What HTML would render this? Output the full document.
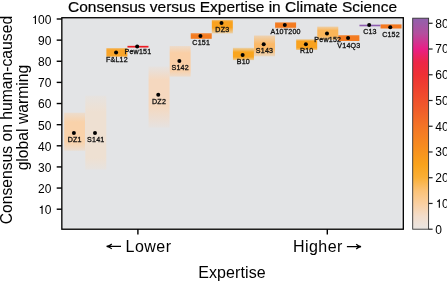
<!DOCTYPE html>
<html><head><meta charset="utf-8"><style>
html,body{margin:0;padding:0;background:#fff;width:447px;height:281px;overflow:hidden}
svg{display:block;will-change:transform}
text{font-family:"Liberation Sans",sans-serif;fill:#000}
.ttl{font-size:15.5px;stroke:#000;stroke-width:0.2px}
.yl{font-size:15.7px}
.xl{font-size:16px}
.tk{font-size:12px}
.lbl{font-size:7.1px;letter-spacing:0.2px;text-anchor:middle;fill:#111;stroke:#111;stroke-width:0.3px}
</style></head><body>
<svg width="447" height="281" viewBox="0 0 447 281">
<defs><linearGradient id="g0" x1="0" y1="0" x2="0" y2="1"><stop offset="0.0000" stop-color="#F9D2AA" stop-opacity="0.4"/><stop offset="0.2447" stop-color="#F9D2AA" stop-opacity="1"/><stop offset="0.7711" stop-color="#F9D2AA" stop-opacity="1"/><stop offset="1.0000" stop-color="#F9D2AA" stop-opacity="0.35"/></linearGradient><linearGradient id="g1" x1="0" y1="0" x2="0" y2="1"><stop offset="0.0000" stop-color="#EEE0D2" stop-opacity="0.3"/><stop offset="0.2219" stop-color="#EEE0D2" stop-opacity="1"/><stop offset="0.8444" stop-color="#EEE0D2" stop-opacity="1"/><stop offset="1.0000" stop-color="#EEE0D2" stop-opacity="0.35"/></linearGradient><linearGradient id="g2" x1="0" y1="0" x2="0" y2="1"><stop offset="0.0000" stop-color="#F9A52A" stop-opacity="0.5"/><stop offset="0.2093" stop-color="#F9A52A" stop-opacity="1"/><stop offset="0.9884" stop-color="#F9A52A" stop-opacity="1"/><stop offset="1.0000" stop-color="#F9A52A" stop-opacity="1"/></linearGradient><linearGradient id="g4" x1="0" y1="0" x2="0" y2="1"><stop offset="0.0000" stop-color="#F5D8BF" stop-opacity="0.15"/><stop offset="0.2219" stop-color="#F5D8BF" stop-opacity="1"/><stop offset="0.6460" stop-color="#F5D8BF" stop-opacity="1"/><stop offset="1.0000" stop-color="#F5D8BF" stop-opacity="0.15"/></linearGradient><linearGradient id="g5" x1="0" y1="0" x2="0" y2="1"><stop offset="0.0000" stop-color="#FACFA6" stop-opacity="0.4"/><stop offset="0.2288" stop-color="#FACFA6" stop-opacity="1"/><stop offset="0.7843" stop-color="#FACFA6" stop-opacity="1"/><stop offset="1.0000" stop-color="#FACFA6" stop-opacity="0.4"/></linearGradient><linearGradient id="g6" x1="0" y1="0" x2="0" y2="1"><stop offset="0.0000" stop-color="#F47B20" stop-opacity="0.55"/><stop offset="0.3103" stop-color="#F47B20" stop-opacity="1"/><stop offset="1.0000" stop-color="#F47B20" stop-opacity="1"/><stop offset="1.0000" stop-color="#F47B20" stop-opacity="1"/></linearGradient><linearGradient id="g7" x1="0" y1="0" x2="0" y2="1"><stop offset="0.0000" stop-color="#F9A21E" stop-opacity="0.5"/><stop offset="0.1407" stop-color="#F9A21E" stop-opacity="1"/><stop offset="0.5630" stop-color="#F9A21E" stop-opacity="1"/><stop offset="1.0000" stop-color="#F9A21E" stop-opacity="0.3"/></linearGradient><linearGradient id="g8" x1="0" y1="0" x2="0" y2="1"><stop offset="0.0000" stop-color="#F9A51E" stop-opacity="0.3"/><stop offset="0.3577" stop-color="#F9A51E" stop-opacity="1"/><stop offset="0.7398" stop-color="#F9A51E" stop-opacity="1"/><stop offset="1.0000" stop-color="#F9A51E" stop-opacity="0.4"/></linearGradient><linearGradient id="g9" x1="0" y1="0" x2="0" y2="1"><stop offset="0.0000" stop-color="#FBB968" stop-opacity="0.4"/><stop offset="0.4087" stop-color="#FBB968" stop-opacity="1"/><stop offset="0.6490" stop-color="#FBB968" stop-opacity="1"/><stop offset="1.0000" stop-color="#FBB968" stop-opacity="0.3"/></linearGradient><linearGradient id="g10" x1="0" y1="0" x2="0" y2="1"><stop offset="0.0000" stop-color="#F47B20" stop-opacity="0.6"/><stop offset="0.2295" stop-color="#F47B20" stop-opacity="1"/><stop offset="0.7541" stop-color="#F47B20" stop-opacity="1"/><stop offset="1.0000" stop-color="#F47B20" stop-opacity="0.6"/></linearGradient><linearGradient id="g11" x1="0" y1="0" x2="0" y2="1"><stop offset="0.0000" stop-color="#F9A21E" stop-opacity="0.45"/><stop offset="0.1963" stop-color="#F9A21E" stop-opacity="1"/><stop offset="0.7944" stop-color="#F9A21E" stop-opacity="1"/><stop offset="1.0000" stop-color="#F9A21E" stop-opacity="0.45"/></linearGradient><linearGradient id="g12" x1="0" y1="0" x2="0" y2="1"><stop offset="0.0000" stop-color="#FBB558" stop-opacity="0.45"/><stop offset="0.2910" stop-color="#FBB558" stop-opacity="1"/><stop offset="0.7015" stop-color="#FBB558" stop-opacity="1"/><stop offset="1.0000" stop-color="#FBB558" stop-opacity="0.45"/></linearGradient><linearGradient id="g13" x1="0" y1="0" x2="0" y2="1"><stop offset="0.0000" stop-color="#F47B20" stop-opacity="0.6"/><stop offset="0.2667" stop-color="#F47B20" stop-opacity="1"/><stop offset="1.0000" stop-color="#F47B20" stop-opacity="1"/><stop offset="1.0000" stop-color="#F47B20" stop-opacity="1"/></linearGradient><linearGradient id="g15" x1="0" y1="0" x2="0" y2="1"><stop offset="0.0000" stop-color="#F47920" stop-opacity="1"/><stop offset="0.0000" stop-color="#F47920" stop-opacity="1"/><stop offset="1.0000" stop-color="#F47920" stop-opacity="1"/><stop offset="1.0000" stop-color="#F47920" stop-opacity="1"/></linearGradient><linearGradient id="cb" x1="0" y1="1" x2="0" y2="0"><stop offset="0.0000" stop-color="#EAE6E3"/><stop offset="0.0610" stop-color="#F3DDCB"/><stop offset="0.1220" stop-color="#FACFA0"/><stop offset="0.1830" stop-color="#FBC276"/><stop offset="0.2440" stop-color="#FAAF36"/><stop offset="0.3050" stop-color="#F9A31C"/><stop offset="0.3904" stop-color="#F68C1F"/><stop offset="0.4880" stop-color="#F37426"/><stop offset="0.5612" stop-color="#F05E2A"/><stop offset="0.6465" stop-color="#EF472E"/><stop offset="0.7319" stop-color="#EE3034"/><stop offset="0.7929" stop-color="#EC2648"/><stop offset="0.8539" stop-color="#E91F86"/><stop offset="0.9271" stop-color="#B44E9E"/><stop offset="1.0003" stop-color="#9062AC"/></linearGradient></defs>
<rect x="61.8" y="17.9" width="341.5" height="211.3" fill="#F4F4F5"/>
<rect x="63.1" y="18.95" width="338.4" height="208.9" fill="#E3E4E6"/>
<rect x="64.20" y="112.7" width="21" height="38.00" fill="url(#g0)"/>
<rect x="85.29" y="95.6" width="21" height="73.90" fill="url(#g1)"/>
<rect x="106.38" y="48.0" width="21" height="8.60" fill="url(#g2)"/>
<rect x="148.56" y="66.4" width="21" height="61.30" fill="url(#g4)"/>
<rect x="169.65" y="46" width="21" height="30.60" fill="url(#g5)"/>
<rect x="190.74" y="33" width="21" height="5.80" fill="url(#g6)"/>
<rect x="211.83" y="19.9" width="21" height="13.50" fill="url(#g7)"/>
<rect x="232.92" y="47.8" width="21" height="12.30" fill="url(#g8)"/>
<rect x="254.01" y="35.5" width="21" height="20.80" fill="url(#g9)"/>
<rect x="275.10" y="22.2" width="21" height="6.10" fill="url(#g10)"/>
<rect x="296.19" y="39.3" width="21" height="10.70" fill="url(#g11)"/>
<rect x="317.28" y="26.6" width="21" height="13.40" fill="url(#g12)"/>
<rect x="338.37" y="35" width="21" height="6.00" fill="url(#g13)"/>
<rect x="380.55" y="24.4" width="21" height="4.10" fill="url(#g15)"/>
<rect x="127.47" y="45.85" width="21" height="1.7" fill="#EC1C24"/>
<rect x="359.46" y="24.70" width="21" height="1.6" fill="#8E5CB0"/>
<circle cx="73.90" cy="133" r="2.0" fill="#000"/>
<circle cx="94.99" cy="133" r="2.0" fill="#000"/>
<circle cx="116.08" cy="52.5" r="2.0" fill="#000"/>
<circle cx="137.17" cy="46.4" r="2.0" fill="#000"/>
<circle cx="158.26" cy="94.7" r="2.0" fill="#000"/>
<circle cx="179.35" cy="61.1" r="2.0" fill="#000"/>
<circle cx="200.44" cy="35.9" r="2.0" fill="#000"/>
<circle cx="221.53" cy="23.1" r="2.0" fill="#000"/>
<circle cx="242.62" cy="54.9" r="2.0" fill="#000"/>
<circle cx="263.71" cy="44.2" r="2.0" fill="#000"/>
<circle cx="284.80" cy="24.9" r="2.0" fill="#000"/>
<circle cx="305.89" cy="44.3" r="2.0" fill="#000"/>
<circle cx="326.98" cy="33.6" r="2.0" fill="#000"/>
<circle cx="348.07" cy="37.9" r="2.0" fill="#000"/>
<circle cx="369.16" cy="25.0" r="2.0" fill="#000"/>
<circle cx="390.25" cy="27.2" r="2.0" fill="#000"/>
<text x="74.70" y="142.30" class="lbl">DZ1</text>
<text x="95.79" y="142.30" class="lbl">S141</text>
<text x="116.88" y="62.30" class="lbl">F&amp;L12</text>
<text x="137.97" y="54.00" class="lbl">Pew151</text>
<text x="159.06" y="103.70" class="lbl">DZ2</text>
<text x="180.15" y="69.90" class="lbl">S142</text>
<text x="201.24" y="44.90" class="lbl">C151</text>
<text x="222.33" y="32.20" class="lbl">DZ3</text>
<text x="243.42" y="63.80" class="lbl">B10</text>
<text x="264.51" y="53.40" class="lbl">S143</text>
<text x="285.60" y="34.20" class="lbl">A10T200</text>
<text x="306.69" y="53.40" class="lbl">R10</text>
<text x="327.78" y="42.20" class="lbl">Pew152</text>
<text x="348.87" y="48.10" class="lbl">V14Q3</text>
<text x="369.96" y="34.35" class="lbl">C13</text>
<text x="391.05" y="36.70" class="lbl">C152</text>
<rect x="61.85" y="17.75" width="341.45" height="211.45" fill="none" stroke="#000" stroke-width="1.35"/>
<line x1="56.7" x2="61.8" y1="209.20" y2="209.20" stroke="#000" stroke-width="1.4"/>
<path d="M382,0L382,709L316,709C298,640 250,585 140,572L140,508L290,508L290,0Z" transform="translate(38.056,214.10) scale(0.012,-0.012)" fill="#000"/>
<text x="51.4" y="214.10" class="tk" text-anchor="end">0</text>
<line x1="56.7" x2="61.8" y1="188.06" y2="188.06" stroke="#000" stroke-width="1.4"/>
<text x="51.4" y="192.96" class="tk" text-anchor="end">20</text>
<line x1="56.7" x2="61.8" y1="166.93" y2="166.93" stroke="#000" stroke-width="1.4"/>
<text x="51.4" y="171.83" class="tk" text-anchor="end">30</text>
<line x1="56.7" x2="61.8" y1="145.80" y2="145.80" stroke="#000" stroke-width="1.4"/>
<text x="51.4" y="150.70" class="tk" text-anchor="end">40</text>
<line x1="56.7" x2="61.8" y1="124.67" y2="124.67" stroke="#000" stroke-width="1.4"/>
<text x="51.4" y="129.56" class="tk" text-anchor="end">50</text>
<line x1="56.7" x2="61.8" y1="103.53" y2="103.53" stroke="#000" stroke-width="1.4"/>
<text x="51.4" y="108.43" class="tk" text-anchor="end">60</text>
<line x1="56.7" x2="61.8" y1="82.40" y2="82.40" stroke="#000" stroke-width="1.4"/>
<text x="51.4" y="87.30" class="tk" text-anchor="end">70</text>
<line x1="56.7" x2="61.8" y1="61.27" y2="61.27" stroke="#000" stroke-width="1.4"/>
<text x="51.4" y="66.17" class="tk" text-anchor="end">80</text>
<line x1="56.7" x2="61.8" y1="40.13" y2="40.13" stroke="#000" stroke-width="1.4"/>
<text x="51.4" y="45.03" class="tk" text-anchor="end">90</text>
<line x1="56.7" x2="61.8" y1="19.00" y2="19.00" stroke="#000" stroke-width="1.4"/>
<path d="M382,0L382,709L316,709C298,640 250,585 140,572L140,508L290,508L290,0Z" transform="translate(31.384,23.90) scale(0.012,-0.012)" fill="#000"/>
<text x="51.4" y="23.90" class="tk" text-anchor="end">00</text>
<line x1="137.9" x2="137.9" y1="229.2" y2="234.4" stroke="#000" stroke-width="1.4"/>
<line x1="327.3" x2="327.3" y1="229.2" y2="234.4" stroke="#000" stroke-width="1.4"/>
<path d="M106.6,246.4H121M111.8,244.0Q109.5,246.0 106.6,246.4Q109.5,246.8 111.8,248.9" fill="none" stroke="#000" stroke-width="1.2"/>
<path d="M346.9,246.6H361M356.2,244.2Q358.5,246.2 361,246.6Q358.5,247.0 356.2,249.0" fill="none" stroke="#000" stroke-width="1.2"/>
<text x="125.6" y="251.6" class="xl" letter-spacing="0.45">Lower</text>
<text x="293" y="251.8" class="xl" letter-spacing="0.45">Higher</text>
<text x="232.05" y="277.5" class="xl" text-anchor="middle" letter-spacing="0.1">Expertise</text>
<text x="232.5" y="12.25" class="ttl" text-anchor="middle">Consensus versus Expertise in Climate Science</text>
<text transform="translate(12,120.1) rotate(-90)" class="yl" text-anchor="middle">Consensus on human-caused</text>
<text transform="translate(28.3,117.6) rotate(-90)" class="yl" text-anchor="middle">global warming</text>
<rect x="412.7" y="18.2" width="15.9" height="211.0" fill="url(#cb)" stroke="#333" stroke-width="0.9"/>
<line x1="428.6" x2="432.6" y1="229.20" y2="229.20" stroke="#222" stroke-width="1.2"/>
<text x="435.3" y="233.60" class="tk">0</text>
<line x1="428.6" x2="432.6" y1="203.46" y2="203.46" stroke="#222" stroke-width="1.2"/>
<path d="M382,0L382,709L316,709C298,640 250,585 140,572L140,508L290,508L290,0Z" transform="translate(435.3,207.86) scale(0.012,-0.012)" fill="#000"/>
<text x="441.972" y="207.86" class="tk">0</text>
<line x1="428.6" x2="432.6" y1="177.72" y2="177.72" stroke="#222" stroke-width="1.2"/>
<text x="435.3" y="182.12" class="tk">20</text>
<line x1="428.6" x2="432.6" y1="151.98" y2="151.98" stroke="#222" stroke-width="1.2"/>
<text x="435.3" y="156.38" class="tk">30</text>
<line x1="428.6" x2="432.6" y1="126.24" y2="126.24" stroke="#222" stroke-width="1.2"/>
<text x="435.3" y="130.64" class="tk">40</text>
<line x1="428.6" x2="432.6" y1="100.50" y2="100.50" stroke="#222" stroke-width="1.2"/>
<text x="435.3" y="104.90" class="tk">50</text>
<line x1="428.6" x2="432.6" y1="74.76" y2="74.76" stroke="#222" stroke-width="1.2"/>
<text x="435.3" y="79.16" class="tk">60</text>
<line x1="428.6" x2="432.6" y1="49.02" y2="49.02" stroke="#222" stroke-width="1.2"/>
<text x="435.3" y="53.42" class="tk">70</text>
<line x1="428.6" x2="432.6" y1="23.28" y2="23.28" stroke="#222" stroke-width="1.2"/>
<text x="435.3" y="27.68" class="tk">80</text>
</svg>
</body></html>
